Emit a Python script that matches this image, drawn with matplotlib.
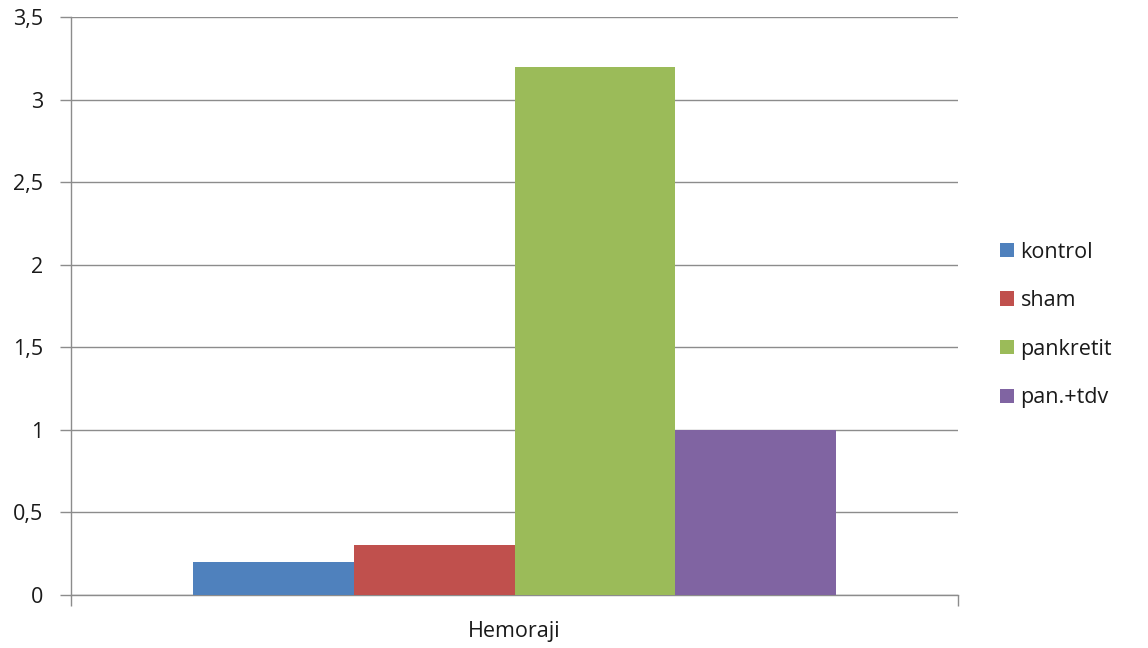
import matplotlib
matplotlib.use("Agg")
import matplotlib.pyplot as plt
from matplotlib.patches import Patch

category = "Hemoraji"
series = ["kontrol", "sham", "pankretit", "pan.+tdv"]
values = [0.2, 0.3, 3.2, 1.0]
colors = ["#4F81BD", "#C0504D", "#9BBB59", "#8064A2"]
yticks = [0, 0.5, 1, 1.5, 2, 2.5, 3, 3.5]
ytick_labels = ["0", "0,5", "1", "1,5", "2", "2,5", "3", "3,5"]

plt.rcParams["font.family"] = ["Open Sans", "DejaVu Sans"]

fig = plt.figure(figsize=(11.48, 6.48), dpi=100)
ax = fig.add_axes([71 / 1148, 53 / 648, 887 / 1148, 578 / 648])

grey = "#8C8C8C"
text_col = "#1A1A1A"
fs = 15.5
bar_w = 0.1815
n = len(series)
for i, (name, v, c) in enumerate(zip(series, values, colors)):
    x = (i - (n - 1) / 2) * bar_w
    ax.bar(x, v, width=bar_w, color=c, label=name, zorder=3, linewidth=0)

ax.set_xlim(-0.5, 0.5)
ax.set_ylim(0, 3.5)
ax.set_yticks(yticks)
ax.set_yticklabels(ytick_labels)
ax.yaxis.grid(True, color=grey, linewidth=1.0, zorder=0)
ax.set_axisbelow(True)

ax.set_xticks([-0.5, 0.5], minor=True)
ax.set_xticks([0])
ax.set_xticklabels([category])
ax.tick_params(axis="x", which="major", length=0, pad=19, labelsize=fs, colors=text_col)
ax.tick_params(axis="x", which="minor", length=8, width=1, color=grey)
ax.tick_params(axis="y", length=8, width=1, color=grey, pad=12, labelsize=fs, labelcolor=text_col)

for side in ["top", "right"]:
    ax.spines[side].set_visible(False)
for side in ["left", "bottom"]:
    ax.spines[side].set_color(grey)
    ax.spines[side].set_linewidth(1.0)

handles = [Patch(facecolor=c, edgecolor="none") for c in colors]
fig.legend(handles, series, loc="center left",
           bbox_to_anchor=(1000 / 1148, 1 - 325 / 648),
           frameon=False, fontsize=fs, handlelength=0.65, handleheight=0.65,
           handletextpad=0.3, labelspacing=1.28, borderaxespad=0,
           borderpad=0, labelcolor=text_col)

fig.savefig("out.png", dpi=100, facecolor="white")
